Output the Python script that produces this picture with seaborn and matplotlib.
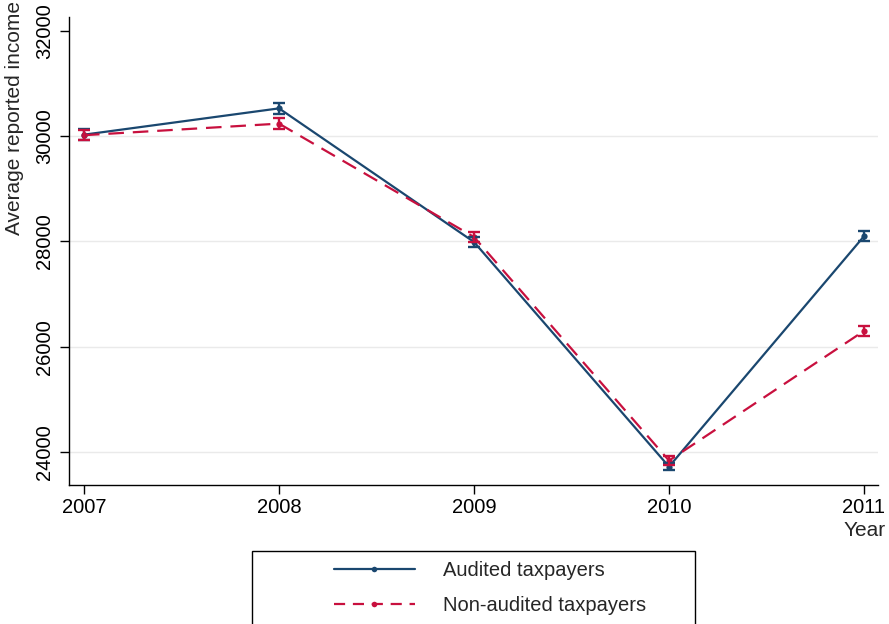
import numpy as np
import pandas as pd
import matplotlib
matplotlib.use("Agg")
import matplotlib.pyplot as plt
from matplotlib.patches import Rectangle
from matplotlib.lines import Line2D
import seaborn as sns

# Mean reported income by year, with standard errors
years = [2007, 2008, 2009, 2010, 2011]
audited_mean = [30030, 30530, 27990, 23720, 28100]
audited_se = [100, 110, 100, 65, 95]
nonaudited_mean = [30020, 30240, 28085, 23835, 26300]
nonaudited_se = [100, 100, 95, 90, 90]
group_names = ["Audited taxpayers", "Non-audited taxpayers"]
y_ticks = [24000, 26000, 28000, 30000, 32000]

blue = "#1a476f"
red = "#c8103e"

df = pd.DataFrame({
    "Year": years * 2,
    "Income": audited_mean + nonaudited_mean,
    "SE": audited_se + nonaudited_se,
    "Group": [group_names[0]] * len(years) + [group_names[1]] * len(years),
})

sns.set_theme(style="white")
plt.rcParams["font.family"] = ["Liberation Sans", "DejaVu Sans"]

fig = plt.figure(figsize=(8.89, 6.24), dpi=100)
ax = fig.add_axes([69 / 889, 1 - 485 / 624, 809 / 889, 468 / 624])

palette = {group_names[0]: blue, group_names[1]: red}
dashes = {group_names[0]: "", group_names[1]: (7, 4)}

sns.lineplot(data=df, x="Year", y="Income", hue="Group", style="Group",
             palette=palette, dashes=dashes, markers={g: "o" for g in group_names},
             markersize=4.5, markeredgewidth=0, linewidth=1.6, ax=ax,
             legend=False, errorbar=None, sort=False)

for g in group_names:
    sub = df[df["Group"] == g]
    ax.errorbar(sub["Year"], sub["Income"], yerr=sub["SE"], fmt="none",
                ecolor=palette[g], elinewidth=1.7, capsize=4.2, capthick=1.7,
                zorder=3)

# gridlines at the inner ticks
for v in y_ticks[:-1]:
    ax.axhline(v, color="#eaeaea", lw=1.0, zorder=0)

ax.set_xlim(2007 - 15 / 195, 2011 + 14 / 195)
ax.set_ylim(24000 - 33 / 105 * 2000, 32000 + 14 / 105 * 2000)
ax.set_xticks(years)
ax.set_xticklabels([str(y) for y in years], fontsize=14.5)
ax.set_yticks(y_ticks)
ax.set_yticklabels([str(v) for v in y_ticks], fontsize=14.5, rotation=90, va="center")
ax.grid(False)

for side in ["top", "right"]:
    ax.spines[side].set_visible(False)
for side in ["left", "bottom"]:
    ax.spines[side].set_color("black")
    ax.spines[side].set_linewidth(1.0)
ax.tick_params(axis="both", which="both", direction="out", length=6.5, width=1.0,
               color="black", bottom=True, left=True, pad=3, labelcolor="black")
ax.tick_params(axis="y", pad=4)

ax.set_xlabel("")
ax.set_ylabel("")
fig.text(886 / 889, 1 - 531 / 624, "Year", ha="right", va="center", fontsize=15)
fig.text(15 / 889, 1 - 118 / 624, "Average reported income", ha="center",
         va="center", rotation=90, fontsize=15)

# legend box
fig.patches.append(Rectangle((252 / 889, -0.05), (695 - 252) / 889,
                             (624 - 551) / 624 + 0.05, transform=fig.transFigure,
                             facecolor="white", edgecolor="black", lw=1.0))
handles = [
    Line2D([], [], color=blue, lw=1.6, marker="o", markersize=4, markeredgewidth=0),
    Line2D([], [], color=red, lw=1.6, ls=(0, (5, 3.5)), marker="o", markersize=4,
           markeredgewidth=0),
]
fig.legend(handles, group_names, loc="center left",
           bbox_to_anchor=(316 / 889, 1 - 588 / 624), frameon=False, fontsize=14.5,
           handlelength=4.0, handletextpad=1.4, labelspacing=0.75)

fig.savefig("out.png", dpi=100)
